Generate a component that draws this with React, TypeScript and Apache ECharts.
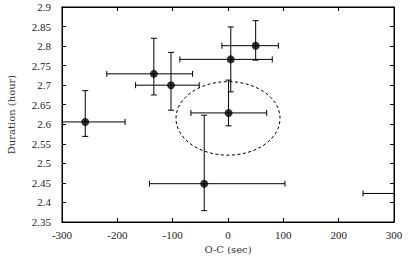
import React, { useEffect, useRef } from "react";
import * as echarts from "echarts";

// O-C (sec) and Duration (hour) with error bar limits
const ocValues = [-258, -134, -103, 5, 50, 1, -43, 350];
const durValues = [2.606, 2.729, 2.7, 2.766, 2.801, 2.629, 2.448, 2.423];
const ocLow = [-330, -219, -167, -87, -11, -67, -142, 244];
const ocHigh = [-186, -64, -52, 80, 91, 70, 103, 456];
const durLow = [2.569, 2.675, 2.636, 2.683, 2.764, 2.596, 2.379, 2.38];
const durHigh = [2.686, 2.82, 2.784, 2.849, 2.865, 2.713, 2.623, 2.47];

// dashed ellipse: centre and semi-axes in data units
const ellipseCentre = [0, 2.615];
const ellipseRadii = [94, 0.094];

const xTicks = [-300, 300, 100];
const yTicks = [2.35, 2.9, 0.05];

const FONT = "Liberation Serif";
const TITLE_FONT = "DejaVu Serif";

export default function App() {
  const ref = useRef<HTMLDivElement>(null);
  useEffect(() => {
    document.body.style.margin = "0";
    const chart = echarts.init(ref.current!, null, { renderer: "svg" });
    const errData = ocValues.map((x, i) => [x, durValues[i], ocLow[i], ocHigh[i], durLow[i], durHigh[i]]);
    const pts = ocValues.map((x, i) => [x, durValues[i]]);
    const axisCommon = {
      axisLine: { show: true, onZero: false, lineStyle: { color: "#000", width: 1 } },
      axisTick: { show: true, inside: true, length: 4, lineStyle: { color: "#000" } },
      splitLine: { show: false },
    };
    const labelStyle = { color: "#222", fontFamily: FONT, fontSize: 11 };
    const titleStyle = { color: "#333", fontFamily: TITLE_FONT, fontSize: 10 };
    chart.setOption({
      animation: false,
      grid: {
        left: 62,
        right: 15,
        top: 7,
        bottom: 41,
        outerBoundsMode: "none",
        containLabel: false,
        show: true,
        borderColor: "#000",
        borderWidth: 1,
      },
      xAxis: [
        {
          type: "value",
          min: xTicks[0],
          max: xTicks[1],
          interval: xTicks[2],
          position: "bottom",
          ...axisCommon,
          axisLabel: { ...labelStyle, margin: 7 },
          name: "O-C (sec)",
          nameLocation: "middle",
          nameGap: 21,
          nameTextStyle: titleStyle,
        },
        {
          type: "value",
          min: xTicks[0],
          max: xTicks[1],
          interval: xTicks[2],
          position: "top",
          ...axisCommon,
          axisLabel: { show: false },
        },
      ],
      yAxis: [
        {
          type: "value",
          min: yTicks[0],
          max: yTicks[1],
          interval: yTicks[2],
          position: "left",
          ...axisCommon,
          axisLabel: { ...labelStyle, margin: 11 },
          name: "Duration (hour)",
          nameLocation: "middle",
          nameGap: 46,
          nameTextStyle: titleStyle,
        },
        {
          type: "value",
          min: yTicks[0],
          max: yTicks[1],
          interval: yTicks[2],
          position: "right",
          ...axisCommon,
          axisLabel: { show: false },
        },
      ],
      series: [
        {
          type: "custom",
          clip: true,
          encode: { x: [0, 2, 3], y: [1, 4, 5] },
          data: errData,
          renderItem: (params: any, api: any) => {
            const c = api.coord([api.value(0), api.value(1)]);
            const xl = api.coord([api.value(2), api.value(1)]);
            const xh = api.coord([api.value(3), api.value(1)]);
            const yl = api.coord([api.value(0), api.value(4)]);
            const yh = api.coord([api.value(0), api.value(5)]);
            const cap = 3;
            const st = { stroke: "#000", lineWidth: 1 };
            return {
              type: "group",
              children: [
                { type: "line", shape: { x1: xl[0], y1: c[1], x2: xh[0], y2: c[1] }, style: st },
                { type: "line", shape: { x1: xl[0], y1: c[1] - cap, x2: xl[0], y2: c[1] + cap }, style: st },
                { type: "line", shape: { x1: xh[0], y1: c[1] - cap, x2: xh[0], y2: c[1] + cap }, style: st },
                { type: "line", shape: { x1: c[0], y1: yl[1], x2: c[0], y2: yh[1] }, style: st },
                { type: "line", shape: { x1: c[0] - cap, y1: yl[1], x2: c[0] + cap, y2: yl[1] }, style: st },
                { type: "line", shape: { x1: c[0] - cap, y1: yh[1], x2: c[0] + cap, y2: yh[1] }, style: st },
              ],
            };
          },
          z: 2,
        },
        {
          type: "custom",
          clip: true,
          data: [[ellipseCentre[0], ellipseCentre[1], ellipseRadii[0], ellipseRadii[1]]],
          encode: { x: 0, y: 1 },
          renderItem: (params: any, api: any) => {
            const c = api.coord([api.value(0), api.value(1)]);
            const s = api.size([api.value(2), api.value(3)]);
            return {
              type: "ellipse",
              shape: { cx: c[0], cy: c[1], rx: s[0], ry: s[1] },
              style: { fill: "none", stroke: "#000", lineWidth: 1, lineDash: [3, 2.5] },
            };
          },
          z: 1,
        },
        {
          type: "scatter",
          clip: true,
          data: pts,
          symbol: "circle",
          symbolSize: 8,
          itemStyle: { color: "#000" },
          z: 3,
        },
      ],
    });
    return () => chart.dispose();
  }, []);
  return (
    <div
      ref={ref}
      style={{ position: "fixed", left: 0, top: 0, width: 409, height: 263, background: "#fff" }}
    />
  );
}
